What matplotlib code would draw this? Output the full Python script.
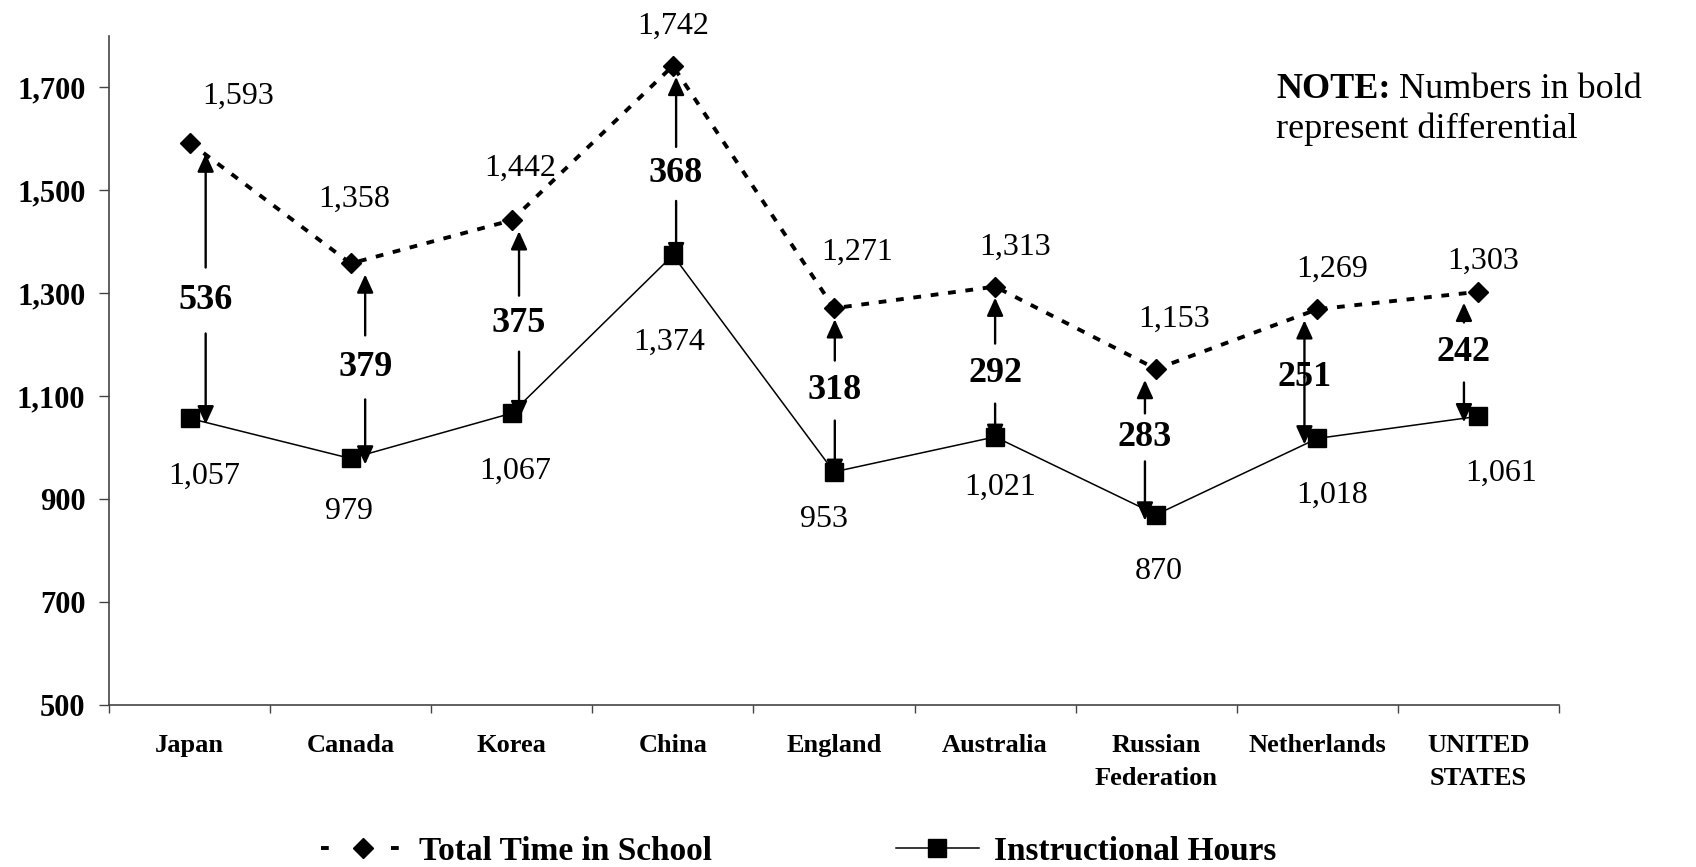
import matplotlib
matplotlib.use("Agg")
import matplotlib.pyplot as plt
from matplotlib import transforms
from matplotlib.lines import Line2D

# ---- data -------------------------------------------------------------
countries = ["Japan", "Canada", "Korea", "China", "England", "Australia",
             "Russian\nFederation", "Netherlands", "UNITED\nSTATES"]
total_time = [1593, 1358, 1442, 1742, 1271, 1313, 1153, 1269, 1303]
instructional = [1057, 979, 1067, 1374, 953, 1021, 870, 1018, 1061]
differential = [t - i for t, i in zip(total_time, instructional)]
y_ticks = [500, 700, 900, 1100, 1300, 1500, 1700]

# ---- layout helpers (positions of annotations) -------------------------
# horizontal shift of each differential arrow, in category units
arrow_dx = [0.10, 0.09, 0.045, 0.02, 0.005, 0.0, -0.07, -0.08, -0.09]
# vertical centre of each bold differential number
diff_label_y = [1286, 1156, 1241, 1532, 1111, 1144, 1020, 1137, 1185]
# gap (pixels) between the bold number and its arrow shafts
diff_gap = [33, 32, 28, 27, 30, 30, 24, 0, 30]
# pixel offsets of the value labels from their markers
total_label_off = [(49, 46), (4, 64), (8, 52), (0, 40), (23, 56),
                   (20, 39), (18, 50), (15, 40), (5, 30)]
instr_label_off = [(15, -58), (-2, -53), (3, -58), (-4, -87), (-10, -48),
                   (5, -50), (3, -57), (15, -57), (23, -57)]

SERIF = "Liberation Serif"

W, H = 1696, 867
fig = plt.figure(figsize=(W / 100, H / 100), dpi=100)
ax = fig.add_axes([109 / W, 1 - 705 / H, 1450 / W, 669 / H])

xs = list(range(len(countries)))

ax.plot(xs, total_time, color="black", lw=2.8,
        linestyle=(0, (2, 2.5)), dash_capstyle="butt",
        marker="D", ms=10, zorder=4)
ax.plot(xs, instructional, color="black", lw=1.1,
        marker="s", ms=13, zorder=4)


def shifted(dy):
    return transforms.offset_copy(ax.transData, fig=fig, x=0, y=dy,
                                  units="dots")


arrow_kw = dict(arrowstyle="-|>,head_length=0.55,head_width=0.25",
                mutation_scale=20, lw=1.7, color="black",
                shrinkA=0, shrinkB=0)

for i in xs:
    xa = i + arrow_dx[i]
    ly = diff_label_y[i]
    g = diff_gap[i]
    # shaft up to the total time in school
    ax.annotate("", xy=(xa, total_time[i]), xycoords=shifted(-11),
                xytext=(xa, ly), textcoords=shifted(g),
                arrowprops=arrow_kw, zorder=2)
    # shaft down to the instructional hours
    ax.annotate("", xy=(xa, instructional[i]), xycoords=shifted(-6),
                xytext=(xa, ly), textcoords=shifted(-g),
                arrowprops=arrow_kw, zorder=2)
    ax.text(xa, ly, f"{differential[i]:,}", ha="center", va="center",
            fontsize=26, fontweight="bold", family=SERIF, zorder=5)

    ax.annotate(f"{total_time[i]:,}", (i, total_time[i]),
                xytext=total_label_off[i], textcoords="offset pixels",
                ha="center", va="center", fontsize=23, family=SERIF)
    ax.annotate(f"{instructional[i]:,}", (i, instructional[i]),
                xytext=instr_label_off[i], textcoords="offset pixels",
                ha="center", va="center", fontsize=23, family=SERIF)

# ---- axes --------------------------------------------------------------
ax.set_xlim(-0.5, len(countries) - 0.5)
ax.set_ylim(500, 1800)
ax.set_yticks(y_ticks)
ax.set_yticklabels([f"{v:,}" for v in y_ticks], family=SERIF,
                   fontweight="bold", fontsize=22)
ax.set_xticks(xs)
ax.set_xticklabels(countries, family=SERIF, fontweight="bold", fontsize=19,
                   linespacing=1.55)
ax.set_xticks([i - 0.5 for i in range(len(countries) + 1)], minor=True)
ax.tick_params(axis="x", which="major", length=0, pad=21)
ax.tick_params(axis="x", which="minor", length=6, width=1, color="#444444")
ax.tick_params(axis="y", length=7, width=1, color="#444444", pad=10)

for side in ("top", "right"):
    ax.spines[side].set_visible(False)
for side in ("left", "bottom"):
    ax.spines[side].set_color("#444444")
    ax.spines[side].set_linewidth(1.2)

# ---- legend ------------------------------------------------------------
legend_handles = [
    Line2D([], [], color="black", lw=2.8, linestyle=(0, (2, 16)),
           dash_capstyle="butt", marker="D", ms=10),
    Line2D([], [], color="black", lw=1.1, marker="s", ms=13),
]
fig.legend(handles=legend_handles,
           labels=["Total Time in School", "Instructional Hours"],
           loc="center", bbox_to_anchor=(0.471, 1 - 851 / H), ncol=2,
           frameon=False, prop=dict(family=SERIF, weight="bold", size=24),
           handlelength=2.5, handletextpad=0.45, columnspacing=5.5)

# ---- note --------------------------------------------------------------
note_x = 1276 / W
t1 = fig.text(note_x, 1 - 98 / H, "NOTE:", family=SERIF, fontweight="bold",
              fontsize=26, ha="left", va="baseline")
fig.canvas.draw()
bb = t1.get_window_extent(renderer=fig.canvas.get_renderer())
fig.text(bb.x1 / W, 1 - 98 / H, " Numbers in bold", family=SERIF,
         fontsize=26, ha="left", va="baseline")
fig.text(note_x, 1 - 138 / H, "represent differential", family=SERIF,
         fontsize=26, ha="left", va="baseline")

fig.savefig("out.png", dpi=100, facecolor="white")
